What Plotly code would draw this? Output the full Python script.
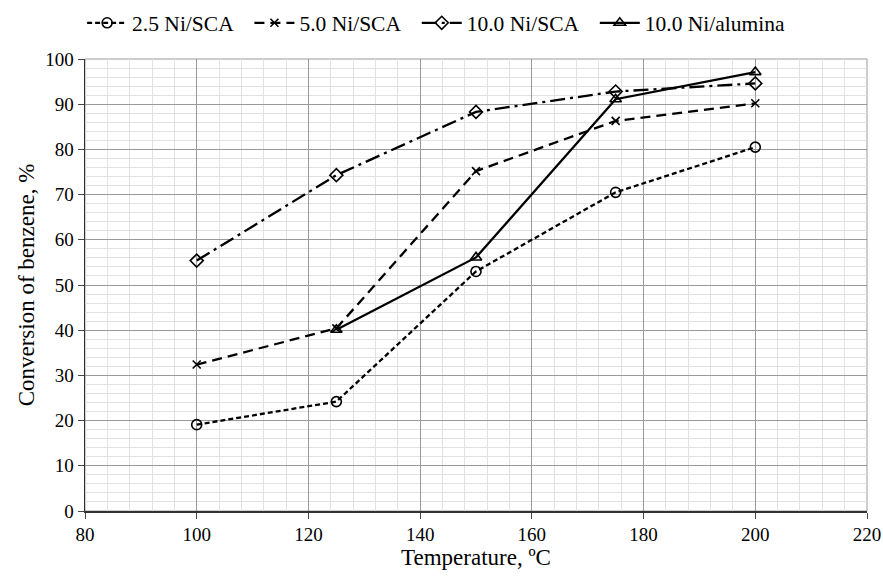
import plotly.graph_objects as go

temps = [100, 125, 150, 175, 200]
temps_alumina = [125, 150, 175, 200]
ni25_sca = [19.1, 24.2, 53.0, 70.5, 80.5]
ni50_sca = [32.4, 40.4, 75.2, 86.3, 90.2]
ni100_sca = [55.4, 74.3, 88.3, 92.8, 94.6]
ni100_alumina = [40.1, 56.1, 91.1, 97.1]

x_ticks = [80, 100, 120, 140, 160, 180, 200, 220]
y_ticks = [0, 10, 20, 30, 40, 50, 60, 70, 80, 90, 100]

PAD = "\u00a0\u00a0"
fig = go.Figure()
series = [
    ("2.5 Ni/SCA", temps, ni25_sca, "circle-open", "5px,3px", 10),
    ("5.0 Ni/SCA", temps, ni50_sca, "x-thin-open", "10px,6px", 8),
    ("10.0 Ni/SCA", temps, ni100_sca, "diamond-open", "15px,5px,3px,5px", 10),
    ("10.0 Ni/alumina", temps_alumina, ni100_alumina, "triangle-up-open", "solid", 10),
]
for name, xs, ys, sym, dash, size in series:
    fig.add_trace(go.Scatter(
        x=xs, y=ys, name=name + PAD, mode="lines+markers",
        line=dict(color="black", width=2.3, dash=dash),
        marker=dict(symbol=sym, size=size, color="black", line=dict(width=1.6, color="black")),
    ))

fig.update_layout(
    width=883, height=576,
    margin=dict(l=85, r=16, t=59, b=65, autoexpand=False),
    paper_bgcolor="white", plot_bgcolor="white",
    font=dict(family="Liberation Serif", size=19, color="black"),
    showlegend=True,
    legend=dict(orientation="h", xref="container", yref="container",
                x=0.093, xanchor="left", y=0.996, yanchor="top",
                font=dict(size=21.5), itemwidth=40, tracegroupgap=0,
                bgcolor="rgba(0,0,0,0)"),
    xaxis=dict(
        range=[80, 220], tickvals=x_ticks, ticks="outside", ticklen=6, tickcolor="#444",
        showgrid=True, gridcolor="#999999", gridwidth=1,
        minor=dict(dtick=4, showgrid=True, gridcolor="#e2e2e2", gridwidth=1),
        showline=True, linecolor="#333", linewidth=1.5, mirror=False, zeroline=False,
        automargin=False,
        title=dict(text="Temperature, ºC", font=dict(size=23), standoff=4),
        tickfont=dict(size=19),
    ),
    yaxis=dict(
        range=[0, 100], tickvals=y_ticks, ticks="outside", ticklen=6, tickcolor="#444",
        showgrid=True, gridcolor="#999999", gridwidth=1,
        minor=dict(dtick=2, showgrid=True, gridcolor="#e2e2e2", gridwidth=1),
        showline=True, linecolor="#333", linewidth=1.5, mirror=False, zeroline=False,
        automargin=False,
        title=dict(text="Conversion of benzene, %", font=dict(size=23), standoff=4),
        tickfont=dict(size=19),
    ),
)
fig.add_shape(type="rect", xref="paper", yref="paper", x0=0, y0=0, x1=1, y1=1,
              line=dict(color="#999999", width=1), layer="below")

fig.write_html("out.html", config={"displayModeBar": False, "staticPlot": True},
               post_script="document.body.style.margin='0px';document.body.style.overflow='hidden';")
